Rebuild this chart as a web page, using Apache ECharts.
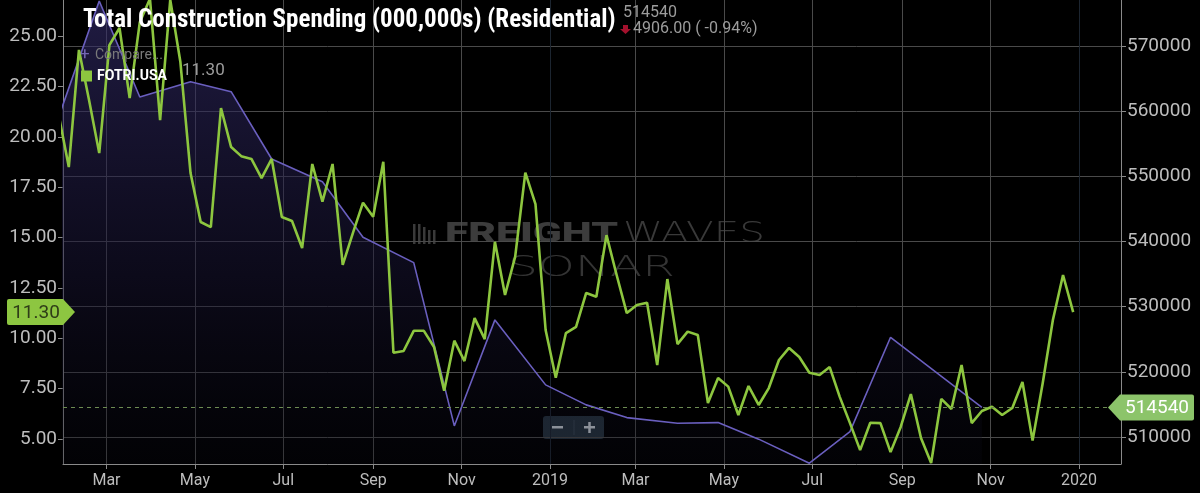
<!DOCTYPE html>
<html>
<head>
<meta charset="utf-8">
<title>Total Construction Spending (Residential)</title>
<script src="https://cdn.jsdelivr.net/npm/echarts@6/dist/echarts.min.js"></script>
<style>
  html, body { margin: 0; padding: 0; background: #000; }
  #chart { width: 1200px; height: 493px; }
</style>
</head>
<body>
<div id="chart"></div>
<script>
// x range and tick labels
const xMin = '2018-01-30';
const xMax = '2020-01-30';
const monthTicks = [
  '2018-03-01', '2018-05-01', '2018-07-01', '2018-09-01', '2018-11-01', '2019-01-01',
  '2019-03-01', '2019-05-01', '2019-07-01', '2019-09-01', '2019-11-01', '2020-01-01'
];
const monthNames = ['Jan', 'Feb', 'Mar', 'Apr', 'May', 'Jun', 'Jul', 'Aug', 'Sep', 'Oct', 'Nov', 'Dec'];

// y ranges and ticks
const leftMin = 3.76, leftMax = 26.79;
const leftTicks = [5, 7.5, 10, 12.5, 15, 17.5, 20, 22.5, 25];
const rightMin = 505857, rightMax = 577059;
const rightTicks = [510000, 520000, 530000, 540000, 550000, 560000, 570000];

// FOTRI.USA, weekly (saturdays), left axis
const fotriStart = '2018-01-27';
const fotriValues = [
  21.1,
  18.50, 24.31, 21.82, 19.19, 24.55, 25.40, 21.92, 25.69, 26.85, 20.83,
  26.80, 23.71, 18.20, 15.77, 15.52, 21.43, 19.49, 19.04, 18.90, 17.95,
  18.90, 16.02, 15.82, 14.48, 18.65, 16.78, 18.65, 13.64, 15.22, 16.73,
  16.03, 18.76, 9.28, 9.37, 10.37, 10.37, 9.57, 7.40, 9.88, 8.87,
  11.00, 9.96, 14.79, 12.15, 14.05, 18.22, 16.66, 10.41, 8.04, 10.26,
  10.57, 12.25, 12.06, 15.12, 13.14, 11.25, 11.65, 11.76, 8.67, 12.94,
  9.71, 10.33, 10.16, 6.79, 8.03, 7.60, 6.19, 7.63, 6.69, 7.53,
  8.92, 9.52, 9.07, 8.29, 8.18, 8.57, 7.08, 5.79, 4.45, 5.81,
  5.79, 4.35, 5.60, 7.23, 5.05, 3.81, 6.99, 6.49, 8.67, 5.79,
  6.39, 6.60, 6.19, 6.54, 7.83, 4.92, 7.78, 10.91, 13.14, 11.30
];

// Total construction spending, residential (000,000s), monthly, right axis
const spendDates = [
  '2018-01-27', '2018-02-24', '2018-03-24', '2018-04-28', '2018-05-26', '2018-06-23',
  '2018-07-28', '2018-08-25', '2018-09-29', '2018-10-27', '2018-11-24', '2018-12-29',
  '2019-01-26', '2019-02-23', '2019-03-30', '2019-04-27', '2019-05-25', '2019-06-29',
  '2019-07-27', '2019-08-24', '2019-10-26'
];
const spendValues = [
  559100, 576900, 562170, 564520, 562990, 552660,
  549180, 540650, 536760, 511700, 527970, 518000,
  514930, 512980, 512120, 512210, 509670, 505980,
  510830, 525300, 514540
];

const lastSpend = 514540;
const spendChange = '4906.00 ( -0.94%)';
const lastFotri = 11.30;

const FONT = 'Roboto, "Noto Sans", sans-serif';

function toTime(s) {
  const p = s.split('-').map(Number);
  return new Date(p[0], p[1] - 1, p[2]).getTime();
}

function weekly(start, n) {
  const p = start.split('-').map(Number);
  const out = [];
  for (let i = 0; i < n; i++) {
    out.push(new Date(p[0], p[1] - 1, p[2] + 7 * i).getTime());
  }
  return out;
}

// stretch a text to a given width (the watermark uses a wide logo font)
const measureCtx = document.createElement('canvas').getContext('2d');
function stretch(text, font, width) {
  measureCtx.font = font;
  return width / measureCtx.measureText(text).width;
}

const fotriDates = weekly(fotriStart, fotriValues.length);
const fotriData = fotriDates.map((d, i) => [d, fotriValues[i]]);
const spendData = spendDates.map((d, i) => [toTime(d), spendValues[i]]);
const monthTickTimes = monthTicks.map(toTime);

// year lines are drawn darker than month lines
const vGridColors = monthTicks.map(s => (s.slice(5, 7) === '01' ? '#1c2530' : '#4a4a4a'));

const wmBold = '900 28px Roboto, sans-serif';
const wmThin = '200 28px "DejaVu Sans", sans-serif';
const wmSonar = '200 29px "DejaVu Sans", sans-serif';

const chart = echarts.init(document.getElementById('chart'));

const option = {
  backgroundColor: '#000',
  animation: false,
  grid: { left: 63, right: 79, top: 0, bottom: 29 },
  title: {
    text: 'Total Construction Spending (000,000s) (Residential)',
    left: 78,
    top: 3,
    textStyle: { color: '#fff', fontSize: 25, fontWeight: 'bold', fontFamily: '"Roboto Condensed", "Liberation Sans Narrow", Roboto, sans-serif' }
  },
  legend: {
    data: ['FOTRI.USA'],
    left: 76,
    top: 64,
    icon: 'rect',
    itemWidth: 11,
    itemHeight: 11,
    itemGap: 6,
    selectedMode: false,
    textStyle: { color: '#fff', fontSize: 14, fontWeight: 'bold', fontFamily: FONT }
  },
  xAxis: {
    // dates as timestamps on a value axis, so the custom month ticks can be used
    type: 'value',
    min: toTime(xMin),
    max: toTime(xMax),
    axisLine: { show: true, lineStyle: { color: '#8a8a8a', width: 1 } },
    axisTick: { show: true, customValues: monthTickTimes, length: 5, lineStyle: { color: '#8a8a8a' } },
    axisLabel: {
      customValues: monthTickTimes,
      color: '#bdbdbd',
      fontSize: 16,
      fontFamily: FONT,
      margin: 9,
      formatter: function (v) {
        const d = new Date(v);
        return d.getMonth() === 0 ? String(d.getFullYear()) : monthNames[d.getMonth()];
      }
    },
    splitLine: { show: true, lineStyle: { color: vGridColors, width: 1 } }
  },
  yAxis: [
    {
      type: 'value',
      position: 'left',
      min: leftMin,
      max: leftMax,
      axisLine: { show: true, lineStyle: { color: '#8a8a8a' } },
      axisTick: { show: true, customValues: leftTicks, length: 5, lineStyle: { color: '#8a8a8a' } },
      axisLabel: {
        customValues: leftTicks,
        color: '#bdbdbd',
        fontSize: 19,
        fontFamily: FONT,
        margin: 6,
        formatter: v => v.toFixed(2)
      },
      splitLine: { show: false }
    },
    {
      type: 'value',
      position: 'right',
      min: rightMin,
      max: rightMax,
      axisLine: { show: true, lineStyle: { color: '#8a8a8a' } },
      axisTick: { show: true, customValues: rightTicks, length: 5, lineStyle: { color: '#8a8a8a' } },
      axisLabel: {
        customValues: rightTicks,
        color: '#bdbdbd',
        fontSize: 19,
        fontFamily: FONT,
        margin: 6,
        formatter: v => String(v)
      },
      splitLine: { show: true, lineStyle: { color: '#4a4a4a', width: 1 } }
    }
  ],
  series: [
    {
      name: 'Total Construction Spending',
      type: 'line',
      yAxisIndex: 1,
      data: spendData,
      symbol: 'none',
      z: 2,
      lineStyle: { color: '#6a5fbf', width: 1.6 },
      itemStyle: { color: '#6a5fbf' },
      areaStyle: {
        color: new echarts.graphic.LinearGradient(0, 0, 0, 1, [
          { offset: 0, color: 'rgba(54, 46, 112, 0.85)' },
          { offset: 0.6, color: 'rgba(24, 20, 52, 0.7)' },
          { offset: 1, color: 'rgba(8, 8, 18, 0.4)' }
        ])
      },
      markLine: {
        silent: true,
        symbol: 'none',
        label: { show: false },
        lineStyle: { type: [4, 4], color: '#6d8c52', width: 1 },
        data: [{ yAxis: lastSpend }]
      },
      markPoint: {
        silent: true,
        data: [{
          coord: [toTime(xMax), lastSpend],
          symbol: 'path://M0,13 L12,0 L84,0 Q86,0 86,2 L86,24 Q86,26 84,26 L12,26 Z',
          symbolSize: [86, 26],
          symbolOffset: [30, 0],
          itemStyle: { color: '#8cc46a' },
          label: {
            show: true,
            position: 'inside',
            offset: [6, 1],
            formatter: String(lastSpend),
            color: '#fff',
            fontSize: 19,
            fontFamily: FONT
          }
        }]
      }
    },
    {
      name: 'FOTRI.USA',
      type: 'line',
      yAxisIndex: 0,
      data: fotriData,
      symbol: 'none',
      z: 3,
      lineStyle: { color: '#8dc63f', width: 2.6 },
      itemStyle: { color: '#8dc63f' },
      markPoint: {
        silent: true,
        data: [{
          coord: [toTime(xMin), lastFotri],
          symbol: 'path://M0,2 Q0,0 2,0 L56,0 L68,13 L56,26 L2,26 Q0,26 0,24 Z',
          symbolSize: [68, 26],
          symbolOffset: [-22, 0],
          itemStyle: { color: '#8dc641' },
          label: {
            show: true,
            position: 'inside',
            offset: [-5, 1],
            formatter: lastFotri.toFixed(2),
            color: '#2f3d18',
            fontSize: 19,
            fontFamily: FONT
          }
        }]
      }
    }
  ],
  graphic: [
    // watermark
    {
      type: 'group',
      z: 1,
      silent: true,
      children: [
        { type: 'rect', shape: { x: 413, y: 224, width: 2.5, height: 20 }, style: { fill: '#3a3a3a' } },
        { type: 'rect', shape: { x: 418, y: 224, width: 2.5, height: 20 }, style: { fill: '#3a3a3a' } },
        { type: 'rect', shape: { x: 423, y: 227, width: 2.5, height: 17 }, style: { fill: '#3a3a3a' } },
        { type: 'rect', shape: { x: 428, y: 230, width: 2.5, height: 14 }, style: { fill: '#3a3a3a' } },
        { type: 'rect', shape: { x: 433, y: 230, width: 2.5, height: 14 }, style: { fill: '#3a3a3a' } },
        {
          type: 'text', x: 445, y: 235, scaleX: stretch('FREIGHT', wmBold, 173),
          style: { text: 'FREIGHT', fill: '#3c3c3c', font: wmBold, textVerticalAlign: 'middle' }
        },
        {
          type: 'text', x: 623, y: 235, scaleX: stretch('WAVES', wmThin, 142),
          style: { text: 'WAVES', fill: '#393939', font: wmThin, textVerticalAlign: 'middle' }
        },
        {
          type: 'text', x: 508, y: 268, scaleX: stretch('SONAR', wmSonar, 167),
          style: { text: 'SONAR', fill: '#343434', font: wmSonar, textVerticalAlign: 'middle' }
        }
      ]
    },
    // header values
    {
      type: 'text', x: 623, y: 5, z: 10,
      style: { text: String(lastSpend), fill: '#9c9c9c', font: '16px ' + FONT }
    },
    {
      type: 'polygon', z: 10,
      shape: { points: [[623, 25], [628, 25], [628, 29], [631, 29], [625.5, 34], [620, 29], [623, 29]] },
      style: { fill: '#a3112d' }
    },
    {
      type: 'text', x: 633, y: 21, z: 10,
      style: { text: spendChange, fill: '#9c9c9c', font: '16px ' + FONT }
    },
    // compare + legend value
    {
      type: 'text', x: 80, y: 46, z: 10,
      style: { text: '+', fill: '#7367b3', font: '17px ' + FONT }
    },
    {
      type: 'text', x: 95, y: 48, z: 10,
      style: { text: 'Compare...', fill: '#7a7a7a', font: '14px ' + FONT }
    },
    {
      type: 'text', x: 182, y: 62, z: 10,
      style: { text: lastFotri.toFixed(2), fill: '#9c9c9c', font: '17px ' + FONT }
    },
    // zoom buttons
    {
      type: 'group', z: 10,
      children: [
        { type: 'rect', shape: { x: 543, y: 416, width: 61, height: 23, r: 3 }, style: { fill: '#25333d' } },
        { type: 'line', shape: { x1: 574, y1: 420, x2: 574, y2: 435 }, style: { stroke: '#3a4954', lineWidth: 1 } },
        { type: 'rect', shape: { x: 552, y: 426, width: 11, height: 2.5 }, style: { fill: '#c9d1d6' } },
        { type: 'rect', shape: { x: 584, y: 426, width: 11, height: 2.5 }, style: { fill: '#c9d1d6' } },
        { type: 'rect', shape: { x: 588.25, y: 422, width: 2.5, height: 11 }, style: { fill: '#c9d1d6' } }
      ]
    }
  ]
};

chart.setOption(option);
</script>
</body>
</html>
